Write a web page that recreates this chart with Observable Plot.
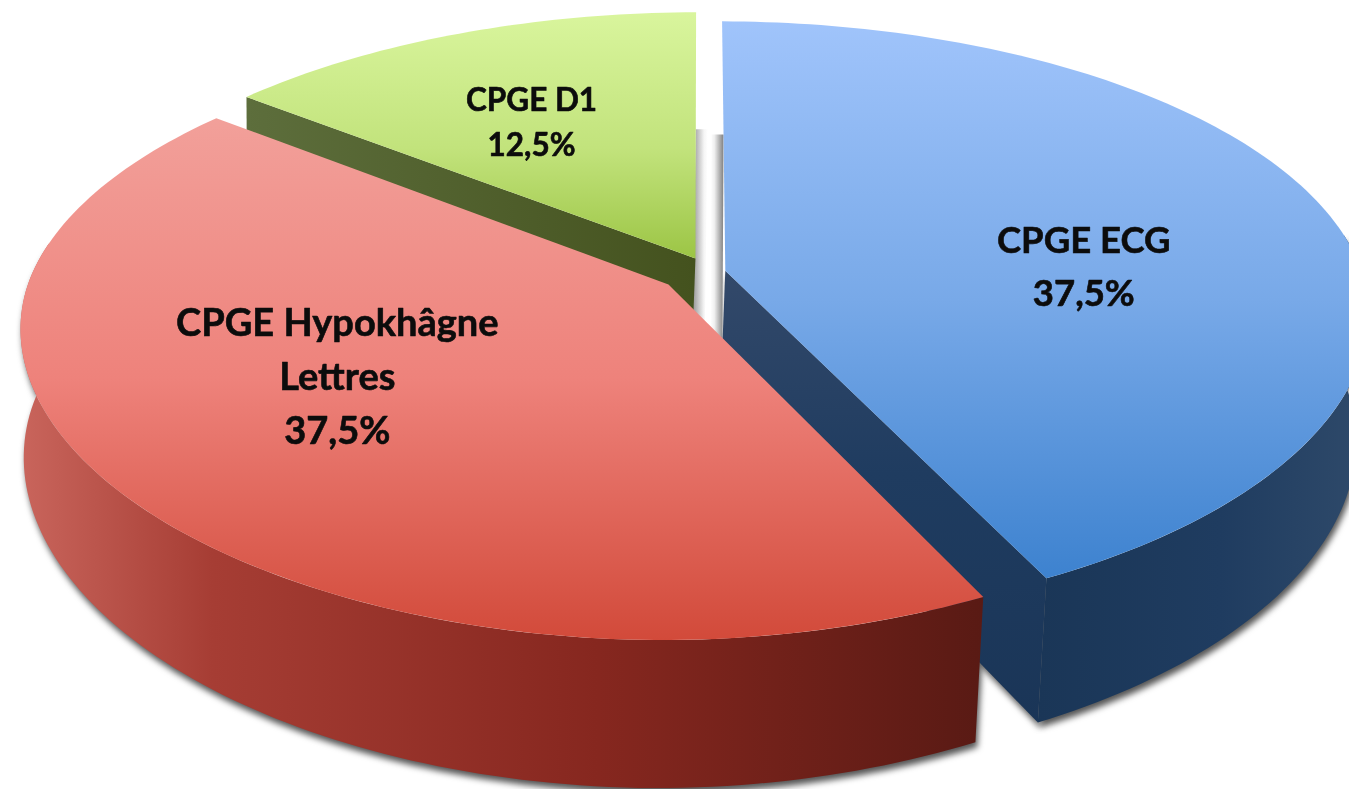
<!DOCTYPE html>
<html><head><meta charset="utf-8">
<script src="https://cdn.jsdelivr.net/npm/d3@7"></script>
<script src="https://cdn.jsdelivr.net/npm/@observablehq/plot@0.6"></script>
<style>html,body{margin:0;padding:0;background:#fff;overflow:hidden}svg{display:block;filter:blur(0.6px)}</style>
</head><body><div id="chart"></div>
<script>
const categories = ["CPGE ECG", "CPGE Hypokhâgne\nLettres", "CPGE D1"];
const shares = [37.5, 37.5, 12.5];
const shareLabels = ["37,5%", "37,5%", "12,5%"];

// view of the pie (perspective disc), all in layout units
const view = {cx: 700, cy: 273, R: 637, k: 0.46, persp: 0.15, flat: 0.018, squeeze: 1.96, depth: 125, taper: 0.0115, vanishX: 300};
const offsets = [[0.039, 0.009], [-0.05, -0.037], [-0.008, 0.052]];
const labelPlace = [{r: 0.567, turn: 9.9}, {r: 0.572, turn: 8.6}, {r: 0.6, turn: -2.3}];
const labelSize = [36.5, 38, 31.5];
const labelLead = [1.46, 1.42, 1.44];

const W = 1349, H = 789;
const arcs = d3.pie().sort(null).value(d => d)(shares);
function project(X, Y, z) {
  const w = 1 + view.persp * Y;
  const x = view.cx + view.R * X / w;
  return {x: x - (x - view.vanishX) * view.taper * z,
          y: view.cy - view.R * view.k * Y * (1 - view.flat * Y) / w + view.depth * z / w};
}
function slicePoint(i, r, th, z) {
  const s = Math.sin(th), c = Math.cos(th), p = view.squeeze;
  const q = r * Math.pow(Math.pow(Math.abs(s), p) + Math.pow(Math.abs(c), p), -1 / p);
  return project(offsets[i][0] + q * s, offsets[i][1] + q * c, z);
}
function rim(i, t0, t1, z) {
  const n = Math.max(2, Math.ceil(Math.abs(t1 - t0) / 0.02));
  return d3.range(n + 1).map(j => slicePoint(i, 1, t0 + (t1 - t0) * j / n, z));
}
function topFace(i) {
  const a = arcs[i];
  return [slicePoint(i, 0, 0, 0), ...rim(i, a.startAngle, a.endAngle, 0)];
}
function wall(i, t0, t1) {
  return [...rim(i, t0, t1, 0), ...rim(i, t1, t0, 1)];
}
function cutFace(i, th) {
  return [slicePoint(i, 0, 0, 0), slicePoint(i, 1, th, 0), slicePoint(i, 1, th, 1), slicePoint(i, 0, 0, 1)];
}
const poly = (pts, fill, extra = {}) => Plot.line(pts, {x: "x", y: "y", fill, stroke: "none", curve: "linear", ...extra});

function grad(id, x2, y2, stops) {
  return `<linearGradient id="${id}" x1="0" y1="0" x2="${x2}" y2="${y2}">` +
    stops.map(([o, c]) => `<stop offset="${o}" stop-color="${c}"/>`).join("") + `</linearGradient>`;
}
const defs = () => {
  const g = document.createElementNS("http://www.w3.org/2000/svg", "g");
  g.innerHTML = `<defs>` +
    grad("gBlue", 0, 1, [[0, "#a0c4fb"], [0.5, "#78a9e8"], [1, "#3d82cf"]]) +
    grad("gRed", 0, 1, [[0, "#f2a09a"], [0.5, "#ee827b"], [1, "#d24a3a"]]) +
    grad("gGreen", 0, 1, [[0, "#d9f59d"], [0.55, "#c2e37c"], [1, "#9cc545"]]) +
    grad("wRed", 1, 0, [[0, "#c9655c"], [0.2, "#a63d34"], [0.6, "#86271f"], [1, "#591a14"]]) +
    grad("wBlue", 1, 0, [[0, "#1a3657"], [0.55, "#1f3c60"], [1, "#2f4a6a"]]) +
    grad("cBlue", 0, 1, [[0, "#33496a"], [0.45, "#1f3c60"], [1, "#1a3557"]]) +
    grad("cGreen", 1, 0, [[0, "#5d6e3c"], [1, "#44521e"]]) +
    grad("sLeft", 1, 0, [[0, "#959595"], [0.75, "#f5f5f5"], [1, "#ffffff"]]) +
    grad("sRight", 1, 0, [[0, "#ffffff"], [0.3, "#f0f0f0"], [1, "#808080"]]) +
    `</defs>`;
  return g;
};

const a = arcs;
const texts = categories.map((c, i) => {
  const mid = (a[i].startAngle + a[i].endAngle) / 2 + labelPlace[i].turn * Math.PI / 180;
  const p = slicePoint(i, labelPlace[i].r, mid, 0);
  return {x: p.x, y: p.y, label: c + "\n" + shareLabels[i]};
});

// soft grey bands on the faces that look into the gap between the slices
function band(i, th, rTop, zBottom, u0, u1) {
  const top = slicePoint(i, rTop, th, 0), bot = slicePoint(i, 0, th, zBottom);
  return [{x: top.x + u0, y: top.y}, {x: top.x + u1, y: top.y}, {x: bot.x + u1, y: bot.y}, {x: bot.x + u0, y: bot.y}];
}

const wallRed = wall(1, a[1].startAngle, 3 * Math.PI / 2 * 1.03);
const wallBlue = wall(0, Math.PI / 2 * 0.92, a[0].endAngle);
const cutBlue = cutFace(0, a[0].endAngle);
const shadow = {dx: 2, dy: 5, imageFilter: "blur(3px)"};

const chart = Plot.plot({
  width: W, height: H, margin: 0,
  x: {domain: [0, W], range: [0, W], axis: null},
  y: {domain: [0, H], range: [0, H], axis: null},
  style: {background: "#fff"},
  marks: [
    defs,
    poly(wallBlue, "#555", shadow),
    poly(cutBlue, "#555", shadow),
    poly(wallRed, "#555", shadow),
    poly(band(2, 2 * Math.PI, 0.485, 0.6, 0, 12), "url(#sLeft)"),
    poly(band(0, 0, 0.507, 0.6, -12, 0), "url(#sRight)"),
    poly(cutFace(2, a[2].startAngle), "url(#cGreen)"),
    poly(topFace(2), "url(#gGreen)"),
    poly(cutBlue, "url(#cBlue)"),
    poly(wallBlue, "url(#wBlue)"),
    poly(topFace(0), "url(#gBlue)"),
    poly(wallRed, "url(#wRed)"),
    poly(topFace(1), "url(#gRed)"),
    ...texts.map((t, i) => Plot.text([t], {x: "x", y: "y", text: "label", fontFamily: "Lato", fontWeight: 700, fontSize: labelSize[i], lineHeight: labelLead[i], fill: "#0c0c0c", stroke: "#0c0c0c", strokeWidth: 0.6}))
  ]
});
document.getElementById("chart").append(chart);
</script></body></html>
